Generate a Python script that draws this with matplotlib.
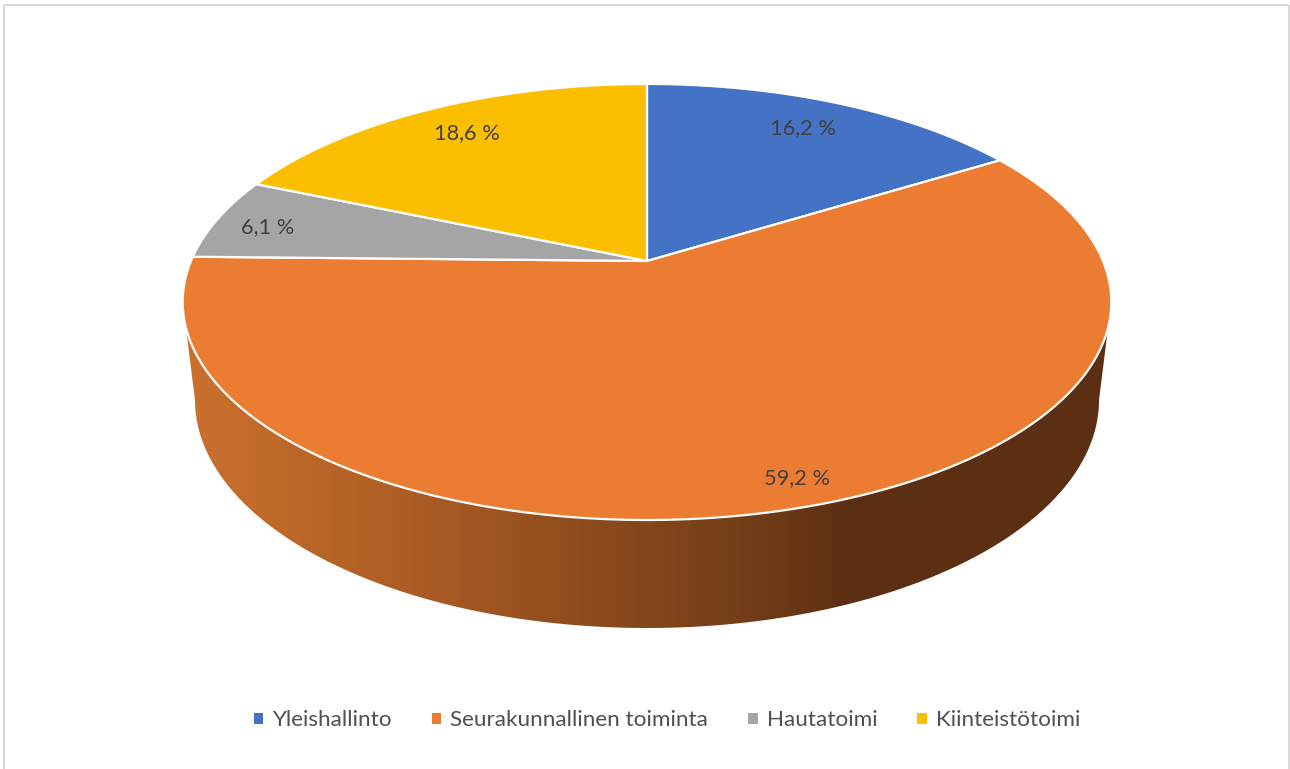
import numpy as np
import matplotlib
matplotlib.use("Agg")
import matplotlib.pyplot as plt
from matplotlib.colors import LinearSegmentedColormap
from matplotlib.patches import Patch, Polygon

categories = ["Yleishallinto", "Seurakunnallinen toiminta", "Hautatoimi", "Kiinteistötoimi"]
values = [16.2, 59.2, 6.1, 18.6]
labels = ["16,2 %", "59,2 %", "6,1 %", "18,6 %"]
colors = ["#4472C4", "#EB7C31", "#A5A5A5", "#FCBF00"]

W, H = 1290, 769
CX, CY = 647.0, 261.0     # pie apex on screen
A, B, K = 456.0, 210.3, 0.188   # perspective projection of the top disc
LABEL_POS = [(803, 128), (797, 478), (268, 227), (467, 133)]
FONT = "Lato"
TXT = "#404040"

def project(theta, r=1.0):
    """Top-disc point; theta clockwise from 12 o'clock, r in disc radii."""
    X, Y = r * np.sin(theta), r * np.cos(theta)
    d = 1 + K * Y
    return CX + A * X / d, CY - B * Y / d

fig = plt.figure(figsize=(W / 100, H / 100), dpi=100)
ax = fig.add_axes([0, 0, 1, 1])
ax.set_xlim(0, W)
ax.set_ylim(H, 0)
ax.axis("off")

# chart frame (no bottom edge, as in the reference)
ax.plot([4, 4], [H, 5], color="#D9D9D9", lw=1.5, solid_capstyle="butt", zorder=1)
ax.plot([4, 1288.5], [5, 5], color="#D9D9D9", lw=1.5, solid_capstyle="butt", zorder=1)
ax.plot([1288.5, 1288.5], [5, H], color="#D9D9D9", lw=1.5, solid_capstyle="butt", zorder=1)

# outer wall: silhouette clipped shaded gradient
t = np.linspace(0, 2 * np.pi, 721)
tx, ty = project(t)
ecy, eh = (ty.max() + ty.min()) / 2, (ty.max() - ty.min()) / 2
ew = (tx.max() - tx.min()) / 2
ecx = (tx.max() + tx.min()) / 2
bcy, bh, bw = 400.0, 228.0, 452.0   # lower rim of the wall
u = np.linspace(np.pi, 0, 361)
bx = ecx + bw * np.cos(u)
by = bcy + bh * np.sin(u)
ux = ecx + ew * np.cos(u[::-1])
uy = ecy + eh * np.sin(u[::-1])
wall = np.column_stack([np.r_[bx, ux], np.r_[by, uy]])
wall_clip = Polygon(wall, closed=True, transform=ax.transData, fc="none", ec="none")
ax.add_patch(wall_clip)
x0, x1 = 183.0, 1111.0
stops = [(183, "#CB712D"), (400, "#AE5E25"), (600, "#8B4A1D"), (740, "#743F18"), (850, "#5C2F13"), (1111, "#5C2F13")]
cmap = LinearSegmentedColormap.from_list("wall", [((p - x0) / (x1 - x0), c) for p, c in stops])
im = ax.imshow(np.linspace(0, 1, 512)[None, :], extent=(x0, x1, 640, 300), cmap=cmap,
               aspect="auto", zorder=2, interpolation="bilinear")
im.set_clip_path(wall_clip)
ax.set_xlim(0, W)
ax.set_ylim(H, 0)

# top disc wedges
fr = np.cumsum([0] + values) / sum(values) * 2 * np.pi
for i, c in enumerate(colors):
    th = np.linspace(fr[i], fr[i + 1], 300)
    px, py = project(th)
    ax.fill(np.r_[CX, px], np.r_[CY, py], facecolor=c, edgecolor="white", lw=1.6,
            joinstyle="round", zorder=3)
    mx, my = LABEL_POS[i]
    ax.text(mx, my, labels[i], family=FONT, fontsize=15.7, color=TXT, ha="center", va="center", zorder=4)

handles = [Patch(facecolor=c, edgecolor="none", label=n) for c, n in zip(colors, categories)]
ax.legend(handles=handles, ncol=4, loc="center", bbox_to_anchor=(667 / W, 1 - 720.5 / H),
          bbox_transform=fig.transFigure, frameon=False, handlelength=0.42, handleheight=0.42,
          handletextpad=0.4, columnspacing=1.78, prop={"family": FONT, "size": 16.2}, labelcolor="#505050")

fig.savefig("out.png", dpi=100, facecolor="white")
